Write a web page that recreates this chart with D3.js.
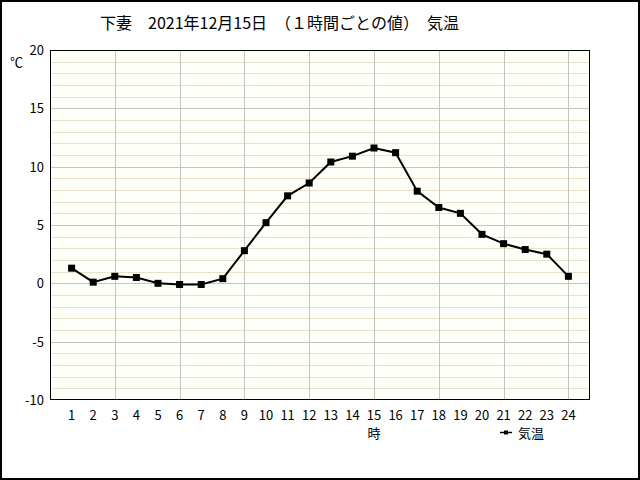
<!DOCTYPE html>
<html>
<head>
<meta charset="utf-8">
<script src="https://cdn.jsdelivr.net/npm/d3@7"></script>
<style>
  body { margin: 0; background: #fff; }
  text { font-family: "Noto Sans CJK JP", "DejaVu Sans", sans-serif; fill: #000; }
</style>
</head>
<body>
<svg width="640" height="480"></svg>
<script>
const width = 640;
const height = 480;

// hourly temperature
const hours = d3.range(1, 25);
const temps = [1.3, 0.1, 0.6, 0.5, 0.0, -0.1, -0.1, 0.4, 2.8, 5.2, 7.5, 8.6,
               10.4, 10.9, 11.6, 11.2, 7.9, 6.5, 6.0, 4.2, 3.4, 2.9, 2.5, 0.6];
const yTicks = [-10, -5, 0, 5, 10, 15, 20];
const xGridHours = [3, 6, 9, 12, 15, 18, 21, 24];

const svg = d3.select('svg');

const plot = { left: 50, right: 590, top: 50, bottom: 400 };

const x = d3.scaleLinear().domain([0, 25]).range([plot.left, plot.right]);
const y = d3.scaleLinear().domain([-10, 20]).range([plot.bottom, plot.top]);

// outer frame
svg.append("rect")
  .attr("x", 1).attr("y", 1)
  .attr("width", width - 2).attr("height", height - 2)
  .style("fill", "#fff")
  .style("stroke", "#000")
  .style("stroke-width", 2);

// plot background
svg.append("rect")
  .attr("x", plot.left).attr("y", plot.top)
  .attr("width", plot.right - plot.left).attr("height", plot.bottom - plot.top)
  .style("fill", "#fffffa");

// minor horizontal grid every 1 degree
svg.selectAll("line.minor")
  .data(d3.range(-9, 20).filter(v => v % 5 !== 0))
  .enter().append("line")
  .attr("class", "minor")
  .attr("x1", plot.left).attr("x2", plot.right)
  .attr("y1", d => Math.round(y(d)) + 0.5).attr("y2", d => Math.round(y(d)) + 0.5)
  .style("stroke", "#ebe1cb")
  .style("stroke-width", 1);

// major horizontal grid every 5 degrees
svg.selectAll("line.major")
  .data(yTicks.slice(1, -1))
  .enter().append("line")
  .attr("class", "major")
  .attr("x1", plot.left).attr("x2", plot.right)
  .attr("y1", d => Math.round(y(d)) + 0.5).attr("y2", d => Math.round(y(d)) + 0.5)
  .style("stroke", "#c4c4c4")
  .style("stroke-width", 1);

// vertical grid every 3 hours
svg.selectAll("line.vgrid")
  .data(xGridHours)
  .enter().append("line")
  .attr("class", "vgrid")
  .attr("x1", d => Math.round(x(d)) + 0.5).attr("x2", d => Math.round(x(d)) + 0.5)
  .attr("y1", plot.top).attr("y2", plot.bottom)
  .style("stroke", "#c4c4c4")
  .style("stroke-width", 1);

// plot border
svg.append("rect")
  .attr("x", plot.left + 0.5).attr("y", plot.top + 0.5)
  .attr("width", plot.right - plot.left - 1).attr("height", plot.bottom - plot.top - 1)
  .style("fill", "none")
  .style("stroke", "#000")
  .style("stroke-width", 1);

// y tick labels
svg.selectAll("text.ytick")
  .data(yTicks)
  .enter().append("text")
  .attr("class", "ytick")
  .attr("x", 44)
  .attr("y", d => y(d) + 5)
  .attr("text-anchor", "end")
  .style("font-size", "13px")
  .text(d => d);

// x tick labels
svg.selectAll("text.xtick")
  .data(hours)
  .enter().append("text")
  .attr("class", "xtick")
  .attr("x", d => x(d))
  .attr("y", 420)
  .attr("text-anchor", "middle")
  .style("font-size", "13px")
  .text(d => d);

// line
const line = d3.line()
  .x((d, i) => x(hours[i]))
  .y(d => y(d));

svg.append("path")
  .datum(temps)
  .attr("d", line)
  .style("fill", "none")
  .style("stroke", "#000")
  .style("stroke-width", 2);

// markers
svg.selectAll("rect.pt")
  .data(temps)
  .enter().append("rect")
  .attr("class", "pt")
  .attr("x", (d, i) => x(hours[i]) - 3.5)
  .attr("y", d => y(d) - 3.5)
  .attr("width", 7).attr("height", 7)
  .style("fill", "#000");

// title
svg.append("text")
  .attr("x", 100)
  .attr("y", 29)
  .style("font-size", "16px")
  .text("下妻\u30002021年12月15日\u3000（１時間ごとの値）\u3000気温");

// unit
svg.append("text")
  .attr("x", 10)
  .attr("y", 67)
  .style("font-size", "13px")
  .text("℃");

// x axis title
svg.append("text")
  .attr("x", x(15))
  .attr("y", 438)
  .attr("text-anchor", "middle")
  .style("font-size", "13px")
  .text("時");

// legend
svg.append("line")
  .attr("x1", 500).attr("x2", 512)
  .attr("y1", 432.5).attr("y2", 432.5)
  .style("stroke", "#000")
  .style("stroke-width", 1.5);
svg.append("rect")
  .attr("x", 504).attr("y", 430.5)
  .attr("width", 4).attr("height", 4)
  .style("fill", "#000");
svg.append("text")
  .attr("x", 518)
  .attr("y", 438)
  .style("font-size", "13px")
  .text("気温");
</script>
</body>
</html>
